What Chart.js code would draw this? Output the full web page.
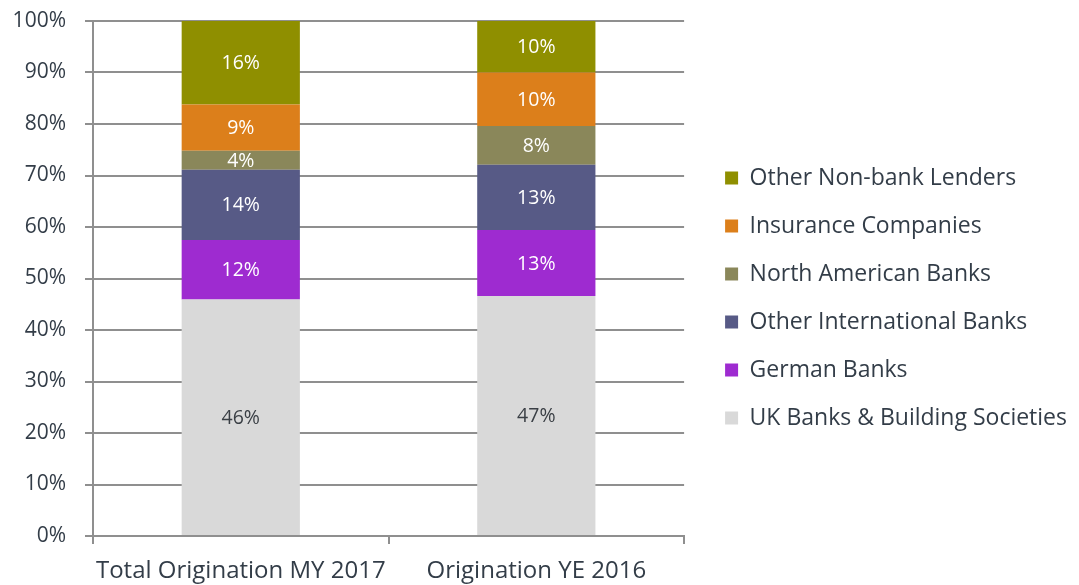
<!DOCTYPE html>
<html>
<head>
<meta charset="utf-8">
<script src="https://cdn.jsdelivr.net/npm/chart.js@4/dist/chart.umd.min.js"></script>
<style>
  html, body { margin: 0; padding: 0; background: #fff; }
  #wrap { width: 1079px; height: 585px; position: relative; }
</style>
</head>
<body>
<div id="wrap"><canvas id="originChart"></canvas></div>
<script>
/* ---------- 数据 ---------- */
const categories = ['Total Origination MY 2017', 'Origination YE 2016'];

const ukBanks        = [45.9, 46.6];
const germanBanks    = [11.6, 12.8];
const otherIntlBanks = [13.6, 12.7];
const northAmerican  = [3.7, 7.5];
const insurance      = [9.0, 10.4];
const otherNonBank   = [16.2, 10.0];

const yTicks = [0, 10, 20, 30, 40, 50, 60, 70, 80, 90, 100];

const FONT = '"Open Sans", "DejaVu Sans", sans-serif';
const TEXT = '#333d48';
const GRID = '#8f8f8f';

/* ---------- 柱内百分比标签 ---------- */
const barLabels = {
    id: 'barLabels',
    afterDatasetsDraw(chart) {
        const ctx = chart.ctx;
        ctx.save();
        ctx.font = '19.5px ' + FONT;
        ctx.textAlign = 'center';
        ctx.textBaseline = 'middle';
        chart.data.datasets.forEach((ds, i) => {
            const meta = chart.getDatasetMeta(i);
            meta.data.forEach((bar, j) => {
                const p = bar.getCenterPoint();
                ctx.fillStyle = ds.labelColor;
                ctx.fillText(Math.round(ds.data[j]) + '%', p.x, p.y + 1);
            });
        });
        ctx.restore();
    }
};

/* 图例与绘图区之间留出间距 */
const legendGap = {
    id: 'legendGap',
    afterLayout(chart) {
        chart.legend.left += 16;
        chart.legend.right += 16;
        chart.legend.top -= 5;
        chart.legend.bottom -= 5;
    }
};

function mk(label, data, color, labelColor) {
    return {
        label, data,
        backgroundColor: color,
        borderWidth: 0,
        categoryPercentage: 0.4,
        barPercentage: 1.0,
        labelColor: labelColor || '#ffffff'
    };
}

new Chart(document.getElementById('originChart'), {
    type: 'bar',
    data: {
        labels: categories,
        datasets: [
            mk('UK Banks & Building Societies', ukBanks, '#d9d9d9', '#3a3f45'),
            mk('German Banks', germanBanks, '#9e2bd0'),
            mk('Other International Banks', otherIntlBanks, '#575a86'),
            mk('North American Banks', northAmerican, '#8a875a'),
            mk('Insurance Companies', insurance, '#dc7f1b'),
            mk('Other Non-bank Lenders', otherNonBank, '#8f8f00')
        ]
    },
    options: {
        responsive: true,
        maintainAspectRatio: false,
        animation: false,
        layout: { padding: { top: 21, right: 18, left: 4, bottom: 0 } },
        plugins: {
            tooltip: { enabled: false },
            legend: {
                position: 'right',
                reverse: true,
                maxWidth: 500,
                labels: {
                    color: TEXT,
                    font: { family: FONT, size: 23 },
                    boxWidth: 13,
                    boxHeight: 13,
                    padding: 25
                }
            }
        },
        scales: {
            x: {
                stacked: true,
                offset: true,
                grid: {
                    offset: true,
                    drawOnChartArea: false,
                    color: GRID,
                    lineWidth: 2,
                    tickLength: 8
                },
                border: { color: GRID, width: 2 },
                ticks: {
                    color: TEXT,
                    font: { family: FONT, size: 24 },
                    padding: 13,
                    maxRotation: 0,
                    minRotation: 0,
                    autoSkip: false
                },
                afterFit: s => { s.height = 49; s.paddingLeft = 0; s.paddingRight = 0; }
            },
            y: {
                stacked: true,
                min: 0,
                max: 100,
                afterBuildTicks: s => { s.ticks = yTicks.map(v => ({ value: v })); },
                grid: {
                    color: GRID,
                    lineWidth: 2,
                    tickLength: 8
                },
                border: { color: GRID, width: 2 },
                ticks: {
                    color: TEXT,
                    font: { family: FONT, size: 21 },
                    padding: 19,
                    callback: v => v + '%'
                },
                afterFit: s => { s.width = 89; s.paddingTop = 0; s.paddingBottom = 0; }
            }
        }
    },
    plugins: [barLabels, legendGap]
});
</script>
</body>
</html>
